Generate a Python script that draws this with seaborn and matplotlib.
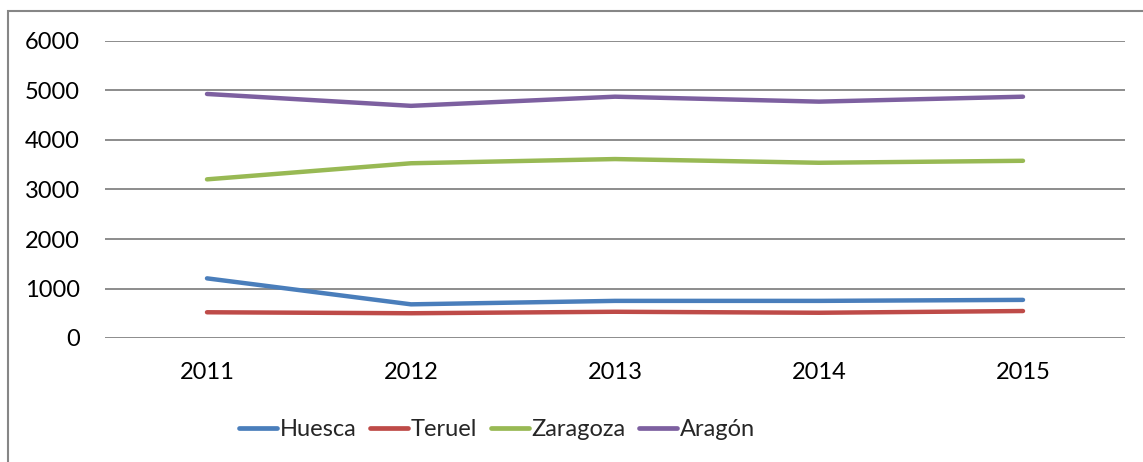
import matplotlib
matplotlib.use("Agg")
import matplotlib.pyplot as plt
import seaborn as sns
import pandas as pd
from matplotlib.patches import Rectangle

years = ["2011", "2012", "2013", "2014", "2015"]
huesca = [1205, 680, 750, 750, 770]
teruel = [520, 500, 530, 510, 545]
zaragoza = [3205, 3530, 3615, 3540, 3580]
aragon = [4930, 4690, 4875, 4775, 4875]
series_names = ["Huesca", "Teruel", "Zaragoza", "Aragón"]
colors = ["#4A7EBB", "#BE4B48", "#98B954", "#7D60A0"]

rows = []
for name, vals in zip(series_names, [huesca, teruel, zaragoza, aragon]):
    for i, (y, v) in enumerate(zip(years, vals)):
        rows.append({"pos": i, "year": y, "value": v, "region": name})
df = pd.DataFrame(rows)

sns.set_theme(style="white")
plt.rcParams["font.family"] = ["Lato", "DejaVu Sans"]

W, H = 1143, 462
fig = plt.figure(figsize=(W / 100, H / 100), dpi=100)
ax = fig.add_axes([105 / W, 1 - 338 / H, (1125 - 105) / W, (338 - 41) / H])

sns.lineplot(data=df, x="pos", y="value", hue="region", hue_order=series_names,
             palette=colors, linewidth=3.2, ax=ax, legend=False,
             solid_capstyle="round")

ax.set_xlim(-0.5, 4.5)
ax.set_ylim(0, 6000)
ax.set_yticks(range(0, 6001, 1000))
ax.set_xticks(range(len(years)))
ax.set_xticklabels(years)
ax.yaxis.grid(True, color="#8C8C8C", linewidth=1.4)
ax.set_axisbelow(True)
for s in ax.spines.values():
    s.set_visible(False)
ax.tick_params(axis="y", length=0, pad=18, labelsize=17, colors="#000000")
ax.tick_params(axis="x", length=0, pad=17, labelsize=17, colors="#000000")
ax.set_xlabel("")
ax.set_ylabel("")

handles = [plt.Line2D([], [], color=c, linewidth=3.4, solid_capstyle="round") for c in colors]
fig.legend(handles, series_names, loc="center", bbox_to_anchor=(497 / W, 1 - 430 / H),
           ncol=4, frameon=False, fontsize=17, handlelength=1.6, handletextpad=0.1,
           columnspacing=0.6, borderpad=0)

# outer chart border (left and top visible)
fig.patches.append(Rectangle((8 / W, -0.1), 1.2, (H - 11) / H + 0.1, transform=fig.transFigure,
                             fill=False, edgecolor="#868686", linewidth=1.5))

fig.savefig("out.png", dpi=100, facecolor="white")
